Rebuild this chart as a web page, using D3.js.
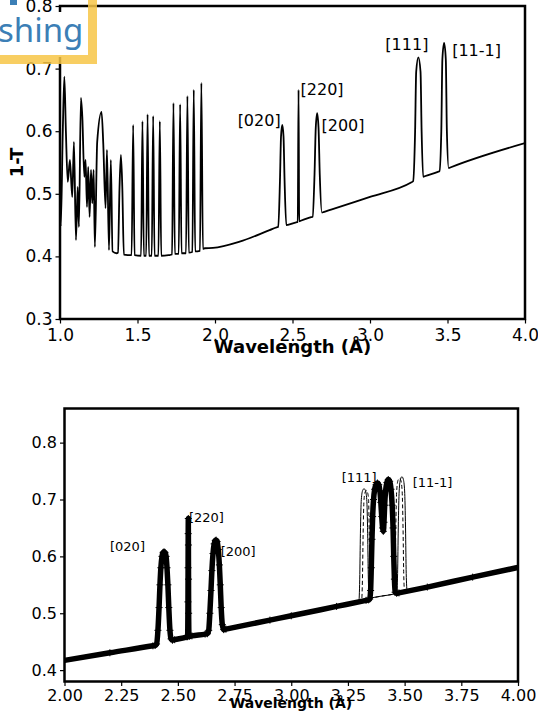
<!DOCTYPE html>
<html>
<head>
<meta charset="utf-8">
<script src="https://cdn.jsdelivr.net/npm/d3@7"></script>
<style>
  html, body { margin: 0; padding: 0; background: #fff; }
  svg { display: block; }
  text { font-family: "DejaVu Sans", sans-serif; }
</style>
</head>
<body>
<svg id="chart" width="538" height="715"></svg>
<script>
// ---------- DATA ----------
// Top panel: full spectrum 1-T vs wavelength (Å)
const topSpectrum = [
  [1.000, 0.470], [1.005, 0.448], [1.018, 0.600], [1.028, 0.687], [1.038, 0.600],
  [1.050, 0.519], [1.064, 0.554], [1.079, 0.495], [1.090, 0.583], [1.103, 0.426],
  [1.114, 0.511], [1.122, 0.447], [1.135, 0.653], [1.144, 0.623], [1.157, 0.527],
  [1.165, 0.554], [1.174, 0.479], [1.182, 0.543], [1.191, 0.463], [1.200, 0.538],
  [1.208, 0.485], [1.217, 0.538], [1.225, 0.415], [1.240, 0.583], [1.268, 0.631],
  [1.279, 0.581], [1.294, 0.477], [1.303, 0.570], [1.316, 0.410], [1.328, 0.554],
  [1.339, 0.408], [1.365, 0.405], [1.374, 0.406], [1.384, 0.510], [1.393, 0.562],
  [1.402, 0.510], [1.412, 0.403], [1.462, 0.402], [1.472, 0.610], [1.481, 0.402],
  [1.523, 0.401], [1.532, 0.616], [1.541, 0.401], [1.556, 0.401], [1.565, 0.627],
  [1.574, 0.401], [1.592, 0.401], [1.601, 0.624], [1.610, 0.401], [1.635, 0.401],
  [1.644, 0.616], [1.653, 0.401], [1.700, 0.402], [1.723, 0.403], [1.732, 0.645],
  [1.741, 0.404], [1.766, 0.404], [1.775, 0.643], [1.784, 0.405], [1.813, 0.405],
  [1.822, 0.656], [1.831, 0.406], [1.854, 0.407], [1.863, 0.666], [1.872, 0.408],
  [1.903, 0.409], [1.912, 0.677], [1.922, 0.412], [1.934, 0.413], [1.987, 0.4135],
  [2.159, 0.4235], [2.352, 0.442], [2.398, 0.4465], [2.408, 0.447], [2.419, 0.520],
  [2.426, 0.592], [2.434, 0.610], [2.442, 0.592], [2.449, 0.520], [2.460, 0.450],
  [2.470, 0.4505], [2.524, 0.4545], [2.534, 0.455], [2.539, 0.666], [2.543, 0.456],
  [2.553, 0.457], [2.620, 0.4627], [2.630, 0.4635], [2.642, 0.530], [2.650, 0.605],
  [2.659, 0.629], [2.668, 0.605], [2.676, 0.530], [2.690, 0.470], [2.700, 0.4708],
  [3.000, 0.495], [3.268, 0.5185], [3.278, 0.520], [3.291, 0.600], [3.298, 0.695],
  [3.312, 0.718], [3.326, 0.695], [3.333, 0.600], [3.343, 0.527], [3.353, 0.528],
  [3.438, 0.535], [3.448, 0.536], [3.460, 0.600], [3.467, 0.715], [3.478, 0.741],
  [3.489, 0.715], [3.496, 0.600], [3.508, 0.541], [3.518, 0.542], [4.000, 0.581]
];
const topXTicks = [1.0, 1.5, 2.0, 2.5, 3.0, 3.5, 4.0];
const topYTicks = [0.3, 0.4, 0.5, 0.6, 0.7, 0.8];
const topPeakLabels = [
  ["[020]", 2.146, 0.608], ["[220]", 2.552, 0.658], ["[200]", 2.687, 0.600],
  ["[111]", 3.099, 0.730], ["[11-1]", 3.530, 0.720]
];

// Bottom panel: zoom 2-4 Å, sampled data (markers) + two model curves
const bottomMeasured = [
  [2.000, 0.4172], [2.200, 0.4305], [2.390, 0.4428], [2.400, 0.4435], [2.406, 0.446],
  [2.412, 0.470], [2.417, 0.510], [2.421, 0.550], [2.425, 0.580], [2.430, 0.600],
  [2.435, 0.607], [2.439, 0.608], [2.443, 0.607], [2.448, 0.600], [2.452, 0.580],
  [2.456, 0.550], [2.460, 0.510], [2.465, 0.470], [2.470, 0.455], [2.476, 0.4525],
  [2.486, 0.4535], [2.540, 0.4585], [2.543, 0.459], [2.5445, 0.520], [2.545, 0.580],
  [2.5455, 0.640], [2.546, 0.6666], [2.5465, 0.620], [2.547, 0.560], [2.5475, 0.500],
  [2.549, 0.460], [2.552, 0.4595], [2.562, 0.4602], [2.620, 0.4633], [2.630, 0.4640],
  [2.636, 0.470], [2.641, 0.500], [2.646, 0.540], [2.650, 0.575], [2.655, 0.605],
  [2.660, 0.622], [2.665, 0.628], [2.669, 0.6285], [2.673, 0.626], [2.678, 0.612],
  [2.683, 0.585], [2.687, 0.550], [2.691, 0.510], [2.696, 0.480], [2.702, 0.4712],
  [2.712, 0.4720], [2.906, 0.4879], [3.000, 0.4955], [3.200, 0.5120], [3.330, 0.5227],
  [3.340, 0.5235], [3.346, 0.525], [3.350, 0.540], [3.353, 0.580], [3.356, 0.630],
  [3.359, 0.670], [3.363, 0.700], [3.368, 0.718], [3.374, 0.726], [3.380, 0.729],
  [3.386, 0.726], [3.391, 0.715], [3.395, 0.695], [3.399, 0.670], [3.403, 0.650],
  [3.406, 0.644], [3.409, 0.660], [3.412, 0.690], [3.416, 0.715], [3.422, 0.730],
  [3.428, 0.735], [3.434, 0.732], [3.440, 0.718], [3.445, 0.690], [3.449, 0.650],
  [3.452, 0.600], [3.455, 0.560], [3.458, 0.537], [3.465, 0.535], [3.475, 0.5358],
  [3.600, 0.5460], [3.800, 0.5635], [4.000, 0.5805]
];
const bottomModelSolid = [
  [3.270, 0.5175], [3.288, 0.5190], [3.298, 0.520], [3.302, 0.560], [3.305, 0.640],
  [3.309, 0.700], [3.315, 0.716], [3.321, 0.719], [3.327, 0.716], [3.333, 0.700],
  [3.337, 0.640], [3.340, 0.560], [3.344, 0.526], [3.354, 0.527], [3.455, 0.534],
  [3.465, 0.535], [3.469, 0.570], [3.472, 0.650], [3.476, 0.715], [3.482, 0.736],
  [3.488, 0.740], [3.494, 0.736], [3.500, 0.715], [3.504, 0.650], [3.507, 0.570],
  [3.511, 0.540], [3.521, 0.541], [3.540, 0.5425]
];
const bottomModelDashed = [
  [3.270, 0.5175], [3.300, 0.5200], [3.310, 0.521], [3.314, 0.560], [3.317, 0.640],
  [3.321, 0.700], [3.326, 0.713], [3.331, 0.716], [3.336, 0.713], [3.341, 0.700],
  [3.344, 0.640], [3.347, 0.560], [3.351, 0.526], [3.361, 0.527], [3.445, 0.533],
  [3.455, 0.5335], [3.458, 0.570], [3.461, 0.650], [3.465, 0.715], [3.471, 0.734],
  [3.477, 0.737], [3.483, 0.734], [3.489, 0.715], [3.493, 0.650], [3.496, 0.570],
  [3.500, 0.537], [3.510, 0.538], [3.540, 0.5425]
];
const bottomXTicks = [2.00, 2.25, 2.50, 2.75, 3.00, 3.25, 3.50, 3.75, 4.00];
const bottomYTicks = [0.4, 0.5, 0.6, 0.7, 0.8];
const bottomPeakLabels = [
  ["[020]", 2.2007, 0.609], ["[220]", 2.549, 0.660], ["[200]", 2.689, 0.600],
  ["[111]", 3.2225, 0.7304], ["[11-1]", 3.5356, 0.7216]
];

// ---------- DRAW ----------
const svg = d3.select("#chart");
svg.append("rect").attr("width", 538).attr("height", 715).attr("fill", "#fff");

function panel(cfg) {
  const g = svg.append("g");
  const x = d3.scaleLinear().domain(cfg.xDomain).range(cfg.xRange);
  const y = d3.scaleLinear().domain(cfg.yDomain).range(cfg.yRange);
  const clipId = cfg.id + "-clip";
  svg.append("defs").append("clipPath").attr("id", clipId)
    .append("rect")
    .attr("x", cfg.xRange[0]).attr("y", cfg.yRange[1])
    .attr("width", cfg.xRange[1] - cfg.xRange[0])
    .attr("height", cfg.yRange[0] - cfg.yRange[1]);

  const xAxis = d3.axisBottom(x).tickValues(cfg.xTicks).tickFormat(d3.format(cfg.xFmt))
    .tickSize(4.5).tickSizeOuter(0).tickPadding(cfg.xPad);
  const yAxis = d3.axisLeft(y).tickValues(cfg.yTicks).tickFormat(d3.format(".1f"))
    .tickSize(4.5).tickSizeOuter(0).tickPadding(3);

  const gx = g.append("g").attr("transform", `translate(0,${cfg.yRange[0]})`).call(xAxis);
  const gy = g.append("g").attr("transform", `translate(${cfg.xRange[0]},0)`).call(yAxis);
  [gx, gy].forEach(a => {
    a.select(".domain").remove();
    a.selectAll(".tick line").attr("stroke", "#000").attr("stroke-width", 1.2);
    a.selectAll(".tick text").attr("fill", "#000")
      .style("font-family", "DejaVu Sans").style("font-size", cfg.tickFont + "px");
  });
  const plot = g.append("g").attr("clip-path", `url(#${clipId})`);
  return { g, x, y, plot };
}

// Top panel
const P1 = panel({
  id: "p1", xDomain: [1, 4], xRange: [60, 525], yDomain: [0.3, 0.8], yRange: [319, 6],
  xTicks: topXTicks, yTicks: topYTicks, xFmt: ".1f", xPad: 5, tickFont: 17
});
const line1 = d3.line().x(d => P1.x(d[0])).y(d => P1.y(d[1])).curve(d3.curveMonotoneX);
P1.plot.append("path").datum(topSpectrum).attr("d", line1)
  .attr("fill", "none").attr("stroke", "#000").attr("stroke-width", 1.8)
  .attr("stroke-linejoin", "round");
P1.g.selectAll(".plabel").data(topPeakLabels).join("text")
  .attr("x", d => P1.x(d[1])).attr("y", d => P1.y(d[2]))
  .style("font-size", "16px").attr("fill", "#000").text(d => d[0]);
P1.g.append("rect").attr("x", 60).attr("y", 6).attr("width", 465).attr("height", 313)
  .attr("fill", "none").attr("stroke", "#000").attr("stroke-width", 2.5);
P1.g.append("text").attr("x", 292.5).attr("y", 353).attr("text-anchor", "middle")
  .style("font-size", "18px").style("font-weight", "bold").text("Wavelength (Å)");
P1.g.append("text").attr("transform", "translate(23,162.5) rotate(-90)")
  .attr("text-anchor", "middle")
  .style("font-size", "18px").style("font-weight", "bold").text("1-T");

// Bottom panel
const P2 = panel({
  id: "p2", xDomain: [2, 4], xRange: [64.5, 518], yDomain: [0.38, 0.86], yRange: [681.5, 408.5],
  xTicks: bottomXTicks, yTicks: bottomYTicks, xFmt: ".2f", xPad: 4, tickFont: 16
});
const line2 = d3.line().x(d => P2.x(d[0])).y(d => P2.y(d[1])).curve(d3.curveMonotoneX);
P2.plot.append("path").datum(bottomModelSolid).attr("d", line2)
  .attr("fill", "none").attr("stroke", "#000").attr("stroke-width", 1);
P2.plot.append("path").datum(bottomModelDashed).attr("d", line2)
  .attr("fill", "none").attr("stroke", "#000").attr("stroke-width", 1)
  .attr("stroke-dasharray", "4,2.5");
P2.plot.append("path").datum(bottomMeasured).attr("d", line2)
  .attr("fill", "none").attr("stroke", "#000").attr("stroke-width", 5.5)
  .attr("stroke-linejoin", "round");
P2.plot.selectAll(".mk").data(bottomMeasured).join("path")
  .attr("transform", d => `translate(${P2.x(d[0])},${P2.y(d[1])})`)
  .attr("d", "M-3.5,0H3.5M0,-3.5V3.5")
  .attr("stroke", "#000").attr("stroke-width", 1).attr("fill", "none");
P2.g.selectAll(".plabel").data(bottomPeakLabels).join("text")
  .attr("x", d => P2.x(d[1])).attr("y", d => P2.y(d[2]))
  .style("font-size", "13px").attr("fill", "#000").text(d => d[0]);
P2.g.append("rect").attr("x", 64.5).attr("y", 408.5).attr("width", 453.5).attr("height", 273)
  .attr("fill", "none").attr("stroke", "#000").attr("stroke-width", 2.5);
P2.g.append("text").attr("x", 291).attr("y", 708).attr("text-anchor", "middle")
  .style("font-size", "14px").style("font-weight", "bold").text("Wavelength (Å)");

// Publisher badge fragment in the top-left corner
const badge = svg.append("g");
badge.append("rect").attr("x", -5).attr("y", 12).attr("width", 95).attr("height", 45).attr("fill", "#fff");
badge.append("rect").attr("x", 88).attr("y", 0).attr("width", 9).attr("height", 64)
  .attr("fill", "#F7C646").attr("opacity", 0.85);
badge.append("rect").attr("x", 0).attr("y", 55).attr("width", 88).attr("height", 9)
  .attr("fill", "#F7C646").attr("opacity", 0.85);
badge.append("rect").attr("x", 10).attr("y", 0).attr("width", 7).attr("height", 5).attr("fill", "#3C7FB6");
badge.append("text").attr("x", -2).attr("y", 42)
  .style("font-family", "'Noto Sans', 'Open Sans', sans-serif").style("font-size", "33px")
  .attr("fill", "#3C7FB6").text("shing");
</script>
</body>
</html>
